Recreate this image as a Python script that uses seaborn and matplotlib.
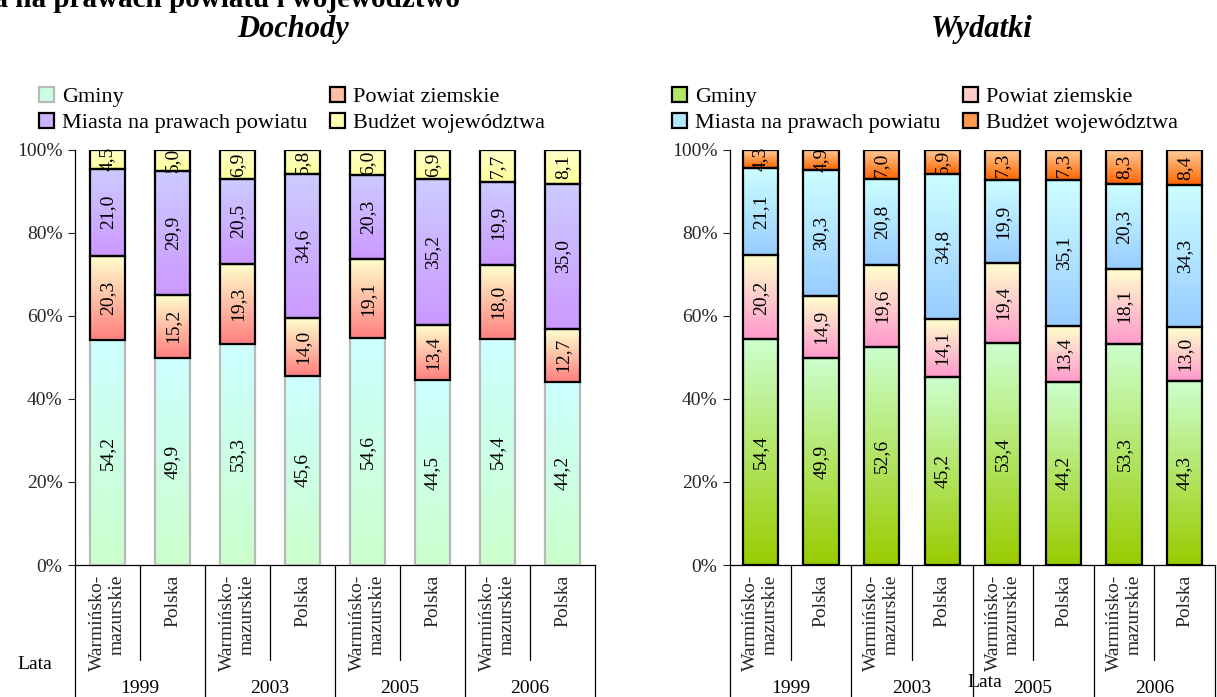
import numpy as np
import pandas as pd
import matplotlib
matplotlib.use("Agg")
import matplotlib.pyplot as plt
import matplotlib.transforms as mtransforms
from matplotlib.patches import Patch
from matplotlib.colors import to_rgb
import seaborn as sns

# ---------------- data ----------------
years = ["1999", "2003", "2005", "2006"]
regions = ["Warmińsko-\nmazurskie", "Polska"]
series = ["Gminy", "Powiat ziemskie", "Miasta na prawach powiatu", "Budżet województwa"]

doch_gminy = [54.2, 49.9, 53.3, 45.6, 54.6, 44.5, 54.4, 44.2]
doch_powiat = [20.3, 15.2, 19.3, 14.0, 19.1, 13.4, 18.0, 12.7]
doch_miasta = [21.0, 29.9, 20.5, 34.6, 20.3, 35.2, 19.9, 35.0]
doch_budzet = [4.5, 5.0, 6.9, 5.8, 6.0, 6.9, 7.7, 8.1]

wyd_gminy = [54.4, 49.9, 52.6, 45.2, 53.4, 44.2, 53.3, 44.3]
wyd_powiat = [20.2, 14.9, 19.6, 14.1, 19.4, 13.4, 18.1, 13.0]
wyd_miasta = [21.1, 30.3, 20.8, 34.8, 19.9, 35.1, 20.3, 34.3]
wyd_budzet = [4.3, 4.9, 7.0, 5.9, 7.3, 7.3, 8.3, 8.4]

y_ticks = [0, 20, 40, 60, 80, 100]
y_ticklabels = ["0%", "20%", "40%", "60%", "80%", "100%"]

# gradient colours (bottom, top) per series
doch_colors = [("#ccffcc", "#ccffff"), ("#ff8080", "#ffffcc"),
               ("#cc99ff", "#ccccff"), ("#ffff99", "#ffffcc")]
wyd_colors = [("#99cc00", "#ccffcc"), ("#ff99cc", "#ffffcc"),
              ("#99ccff", "#ccffff"), ("#ff6600", "#ffcc99")]
doch_edges = ["#b8b8b8", "black", "black", "black"]
wyd_edges = ["black", "black", "black", "black"]

sns.set_theme(style="white")
plt.rcParams["font.family"] = ["Liberation Serif", "DejaVu Serif"]
plt.rcParams["text.color"] = "black"

fig = plt.figure(figsize=(12.17, 6.97), dpi=100)
W, H = 1217, 697


def px_axes(l, r, t, b):
    return fig.add_axes([l / W, (H - b) / H, (r - l) / W, (b - t) / H])


def grad_image(c0, c1, n=64):
    a = np.array(to_rgb(c0)); b = np.array(to_rgb(c1))
    t = np.linspace(0, 1, n)[:, None]
    return (a * (1 - t) + b * t)[:, None, :]


def draw_panel(ax, values, colors, edges, width, title, title_x, leg_x):
    cats = [f"{y}|{r}" for y in years for r in regions]
    bottom = np.zeros(len(cats))
    for k, vals in enumerate(values):
        df = pd.DataFrame({"cat": cats, "val": vals})
        before = len(ax.patches)
        sns.barplot(data=df, x="cat", y="val", order=cats, ax=ax, width=width,
                    errorbar=None, bottom=bottom.copy(), color=colors[k][0],
                    edgecolor=edges[k], linewidth=1.6, zorder=3)
        new = ax.patches[before:]
        for p, v in zip(new, vals):
            x0, y0, w, h = p.get_x(), p.get_y(), p.get_width(), p.get_height()
            im = ax.imshow(grad_image(*colors[k]), extent=[x0, x0 + w, y0, y0 + h],
                           aspect="auto", origin="lower", zorder=2, interpolation="bilinear")
            im.set_clip_path(p)
            p.set_facecolor("none")
            ax.text(x0 + w / 2, y0 + h / 2, f"{v:.1f}".replace(".", ","),
                    rotation=90, ha="center", va="center", fontsize=14, zorder=5)
        bottom = bottom + np.array(vals)

    ax.set_xlim(-0.5, len(cats) - 0.5)
    ax.set_ylim(0, 100)
    ax.set_yticks(y_ticks)
    ax.set_yticklabels(y_ticklabels, fontsize=14)
    ax.set_xticks(range(len(cats)))
    ax.set_xticklabels(regions * len(years), rotation=90, fontsize=14,
                       multialignment="right", va="top", ha="center")
    ax.tick_params(axis="x", length=0, pad=7)
    ax.tick_params(axis="y", length=5, width=0.8, direction="out", pad=4, left=True)
    ax.set_xlabel(""); ax.set_ylabel("")
    for s in ["top", "right"]:
        ax.spines[s].set_visible(False)
    for s in ["left", "bottom"]:
        ax.spines[s].set_color("black")
        ax.spines[s].set_linewidth(0.9)

    tr = mtransforms.blended_transform_factory(ax.transData, ax.transAxes)
    for i in range(len(cats) + 1):
        xb = i - 0.5
        yb = -0.34 if i % 2 == 0 else -0.23
        ax.plot([xb, xb], [0, yb], transform=tr, clip_on=False, color="black", lw=0.9)
    for j, yr in enumerate(years):
        ax.text(2 * j + 0.5, -0.297, yr, transform=tr, ha="center", va="center", fontsize=14)

    handles = [Patch(facecolor=np.mean([to_rgb(c) for c in colors[k]], axis=0),
                     edgecolor=edges[k], linewidth=1.6) for k in range(4)]
    order = [0, 2, 1, 3]
    ax.legend([handles[i] for i in order], [series[i] for i in order], ncol=2,
              loc="lower left", bbox_to_anchor=leg_x, frameon=False, fontsize=16,
              handlelength=0.7, handleheight=0.7, handletextpad=0.35,
              columnspacing=1.0, labelspacing=0.25, borderpad=0, borderaxespad=0)
    fig.text(title_x / W, 1 - 29 / H, title, ha="center", va="center",
             fontsize=22, fontweight="bold", fontstyle="italic")


ax1 = px_axes(75, 595, 150, 565)
ax2 = px_axes(730, 1215, 150, 565)

draw_panel(ax1, [doch_gminy, doch_powiat, doch_miasta, doch_budzet], doch_colors,
           doch_edges, 0.54, "Dochody", 293, (-0.07, 1.04))
draw_panel(ax2, [wyd_gminy, wyd_powiat, wyd_miasta, wyd_budzet], wyd_colors,
           wyd_edges, 0.58, "Wydatki", 982, (-0.12, 1.04))

ax1.text(-0.077, -0.24, "Lata", transform=ax1.transAxes, ha="center", va="center", fontsize=14)
ax2.text(0.526, -0.284, "Lata", transform=ax2.transAxes, ha="center", va="center", fontsize=14)

fig.text(460 / W, 1 - 7 / H, "Udział gmin, powiatów, miasta na prawach powiatu i województwo",
         ha="right", va="baseline", fontsize=21, fontweight="bold")

fig.savefig("out.png", dpi=100)
